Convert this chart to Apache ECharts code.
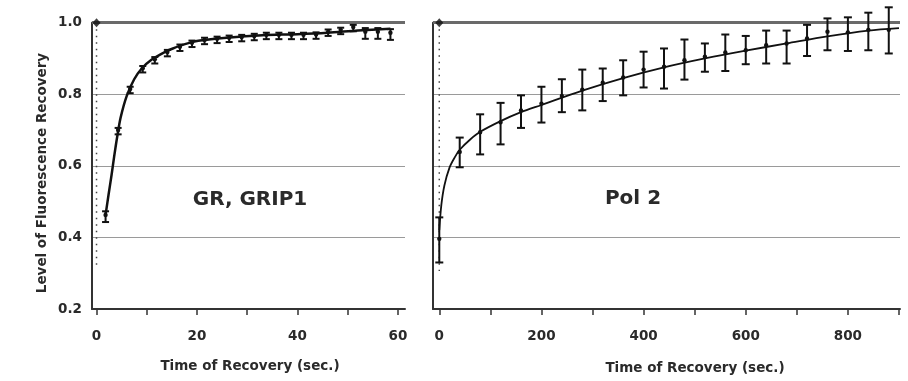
<!DOCTYPE html>
<html>
<head>
<meta charset="utf-8">
<script src="https://cdn.jsdelivr.net/npm/echarts@6/dist/echarts.min.js"></script>
<style>html,body{margin:0;padding:0;background:#fff;}#c{width:908px;height:381px;}</style>
</head>
<body>
<div id="c"></div>
<script>
// ---- Left panel (GR, GRIP1) ----
var leftFitT   = [1.8, 2.4, 3.0, 3.5, 4.1, 4.8, 6.0, 7.5, 9.0, 11.0, 13.6, 15.2, 17.6, 20.6, 25.9, 33.0, 40.0, 46.0, 52.0, 58.5];
var leftFitV   = [0.463, 0.520, 0.575, 0.625, 0.680, 0.735, 0.795, 0.842, 0.872, 0.897, 0.918, 0.928, 0.940, 0.950, 0.958, 0.965, 0.968, 0.972, 0.978, 0.983];
var leftPtT    = [1.8, 4.3, 6.7, 9.2, 11.6, 14.1, 16.6, 19.0, 21.5, 24.0, 26.4, 28.9, 31.4, 33.8, 36.3, 38.8, 41.2, 43.7, 46.1, 48.6, 51.1, 53.5, 56.0, 58.5];
var leftPtV    = [0.463, 0.700, 0.815, 0.873, 0.898, 0.918, 0.933, 0.944, 0.952, 0.955, 0.958, 0.960, 0.963, 0.966, 0.966, 0.966, 0.966, 0.967, 0.975, 0.980, 0.988, 0.975, 0.975, 0.972];
var leftPtErr  = [0.02, 0.012, 0.012, 0.012, 0.012, 0.012, 0.012, 0.012, 0.012, 0.012, 0.012, 0.012, 0.012, 0.012, 0.012, 0.012, 0.012, 0.012, 0.012, 0.012, 0.012, 0.02, 0.02, 0.02];
var leftBleachLow = 0.315;
var leftXTicks  = [0, 10, 20, 30, 40, 50, 60];
var leftXLabels = [0, 20, 40, 60];

// ---- Right panel (Pol 2) ----
var rightFitT  = [0, 4, 10, 20, 30, 40, 60, 80, 120, 160, 200, 280, 360, 440, 520, 600, 680, 760, 840, 900];
var rightFitV  = [0.42, 0.49, 0.545, 0.595, 0.623, 0.645, 0.673, 0.695, 0.725, 0.75, 0.77, 0.81, 0.845, 0.875, 0.90, 0.922, 0.942, 0.962, 0.978, 0.985];
var rightPtT   = [0, 40, 80, 120, 160, 200, 240, 280, 320, 360, 400, 440, 480, 520, 560, 600, 640, 680, 720, 760, 800, 840, 880];
var rightPtV   = [0.396, 0.639, 0.694, 0.722, 0.755, 0.774, 0.795, 0.813, 0.832, 0.847, 0.869, 0.877, 0.895, 0.905, 0.917, 0.923, 0.937, 0.942, 0.956, 0.975, 0.973, 0.980, 0.980];
var rightPtLo  = [0.330, 0.596, 0.632, 0.660, 0.706, 0.721, 0.750, 0.755, 0.781, 0.797, 0.819, 0.816, 0.841, 0.863, 0.865, 0.884, 0.886, 0.886, 0.907, 0.923, 0.921, 0.923, 0.914];
var rightPtHi  = [0.456, 0.679, 0.744, 0.776, 0.797, 0.821, 0.842, 0.869, 0.872, 0.895, 0.919, 0.928, 0.953, 0.942, 0.967, 0.963, 0.978, 0.978, 0.994, 1.012, 1.015, 1.028, 1.043];
var rightBleachLow = 0.306;
var rightXTicks  = [0, 100, 200, 300, 400, 500, 600, 700, 800, 900];
var rightXLabels = [0, 200, 400, 600, 800];

var prebleach = 1.0;
var yTitle = 'Level of Fluorescence Recovery';
var xTitle = 'Time of Recovery (sec.)';
var panelTitles = ['GR, GRIP1', 'Pol 2'];

var FONT = '"DejaVu Sans", Arial, sans-serif';
var TXT = '#2a2a2a';

function zip(a, b) { return a.map(function (v, i) { return [v, b[i]]; }); }

function errSeries(xi, data, capHalf, lw, dotR) {
  return {
    type: 'custom', xAxisIndex: xi, yAxisIndex: xi, clip: false, z: 5,
    data: data,
    renderItem: function (params, api) {
      var x = api.value(0), v = api.value(1), lo = api.value(2), hi = api.value(3);
      var pc = api.coord([x, v]), pl = api.coord([x, lo]), ph = api.coord([x, hi]);
      var st = { stroke: '#111', lineWidth: lw };
      return {
        type: 'group',
        children: [
          { type: 'line', shape: { x1: pl[0], y1: pl[1], x2: ph[0], y2: ph[1] }, style: st },
          { type: 'line', shape: { x1: pl[0] - capHalf, y1: pl[1], x2: pl[0] + capHalf, y2: pl[1] }, style: st },
          { type: 'line', shape: { x1: ph[0] - capHalf, y1: ph[1], x2: ph[0] + capHalf, y2: ph[1] }, style: st },
          { type: 'circle', shape: { cx: pc[0], cy: pc[1], r: dotR }, style: { fill: '#111' } }
        ]
      };
    }
  };
}

var leftErrData = leftPtT.map(function (t, i) { return [t, leftPtV[i], leftPtV[i] - leftPtErr[i], leftPtV[i] + leftPtErr[i] * 0.5]; });
var rightErrData = rightPtT.map(function (t, i) { return [t, rightPtV[i], rightPtLo[i], rightPtHi[i]]; });

function xAxisCfg(idx, min, max, ticks, labels) {
  return {
    type: 'value', gridIndex: idx, min: min, max: max,
    axisLine: { show: true, onZero: false, lineStyle: { color: '#333', width: 2 } },
    axisTick: { show: true, customValues: ticks, length: 6, lineStyle: { color: '#333', width: 1.5 } },
    axisLabel: { customValues: labels, margin: 20, fontFamily: FONT, fontWeight: 'bold', fontSize: 13.5, color: TXT },
    splitLine: { show: false }
  };
}
function yAxisCfg(idx, showLabels) {
  return {
    type: 'value', gridIndex: idx, min: 0.2, max: 1.0, interval: 0.2,
    axisLine: { show: true, onZero: false, lineStyle: { color: '#333', width: 2 } },
    axisTick: { show: false },
    axisLabel: { show: showLabels, margin: 10, fontFamily: FONT, fontWeight: 'bold', fontSize: 13.5, color: TXT,
      formatter: function (v) { return v.toFixed(1); } },
    splitLine: { show: true, lineStyle: { color: '#9a9a9a', width: 1 } }
  };
}

function panelSeries(xi, fitT, fitV, fitW, bleachLow, errData, capHalf, lw, dotR) {
  return [
    {
      type: 'line', xAxisIndex: xi, yAxisIndex: xi, data: [], symbol: 'none', silent: true,
      markLine: { silent: true, symbol: 'none', label: { show: false },
        lineStyle: { color: '#6a6a6a', width: 3, type: 'solid' }, data: [{ yAxis: prebleach }] }
    },
    {
      type: 'line', xAxisIndex: xi, yAxisIndex: xi, data: [[0, prebleach], [0, bleachLow]],
      symbol: 'none', lineStyle: { color: '#444', width: 1.5, type: [1.5, 5] }, z: 3
    },
    {
      type: 'line', xAxisIndex: xi, yAxisIndex: xi, data: zip(fitT, fitV), smooth: 0.3,
      symbol: 'none', lineStyle: { color: '#111', width: fitW }, z: 4
    },
    errSeries(xi, errData, capHalf, lw, dotR),
    {
      type: 'scatter', xAxisIndex: xi, yAxisIndex: xi, data: [[0, prebleach]],
      symbol: 'diamond', symbolSize: [8, 9], itemStyle: { color: '#111' }, z: 6
    }
  ];
}

var titleFont = 'bold 13.5px "DejaVu Sans", Arial, sans-serif';
var chart = echarts.init(document.getElementById('c'), null, { renderer: 'canvas' });
chart.setOption({
  backgroundColor: '#fff',
  animation: false,
  grid: [
    { left: 92, top: 22.7, width: 313, height: 286.3 },
    { left: 433, top: 22.7, width: 467, height: 286.3 }
  ],
  xAxis: [
    xAxisCfg(0, -0.9, 61.4, leftXTicks, leftXLabels),
    xAxisCfg(1, -12.3, 902, rightXTicks, rightXLabels)
  ],
  yAxis: [yAxisCfg(0, true), yAxisCfg(1, false)],
  graphic: [
    { type: 'text', x: 250, y: 200, style: { text: panelTitles[0], align: 'center', verticalAlign: 'middle',
      font: 'bold 20px "DejaVu Sans", Arial, sans-serif', fill: TXT } },
    { type: 'text', x: 633, y: 199, style: { text: panelTitles[1], align: 'center', verticalAlign: 'middle',
      font: 'bold 20px "DejaVu Sans", Arial, sans-serif', fill: TXT } },
    { type: 'text', x: 250, y: 366, style: { text: xTitle, align: 'center', verticalAlign: 'middle', font: titleFont, fill: TXT } },
    { type: 'text', x: 695, y: 368, style: { text: xTitle, align: 'center', verticalAlign: 'middle', font: titleFont, fill: TXT } },
    { type: 'text', x: 42, y: 173, rotation: Math.PI / 2, style: { text: yTitle, align: 'center', verticalAlign: 'middle', font: titleFont, fill: TXT } }
  ],
  series: [].concat(
    panelSeries(0, leftFitT, leftFitV, 2.5, leftBleachLow, leftErrData, 3.5, 2, 2.2),
    panelSeries(1, rightFitT, rightFitV, 1.8, rightBleachLow, rightErrData, 4, 2, 2.2)
  )
});
</script>
</body>
</html>
